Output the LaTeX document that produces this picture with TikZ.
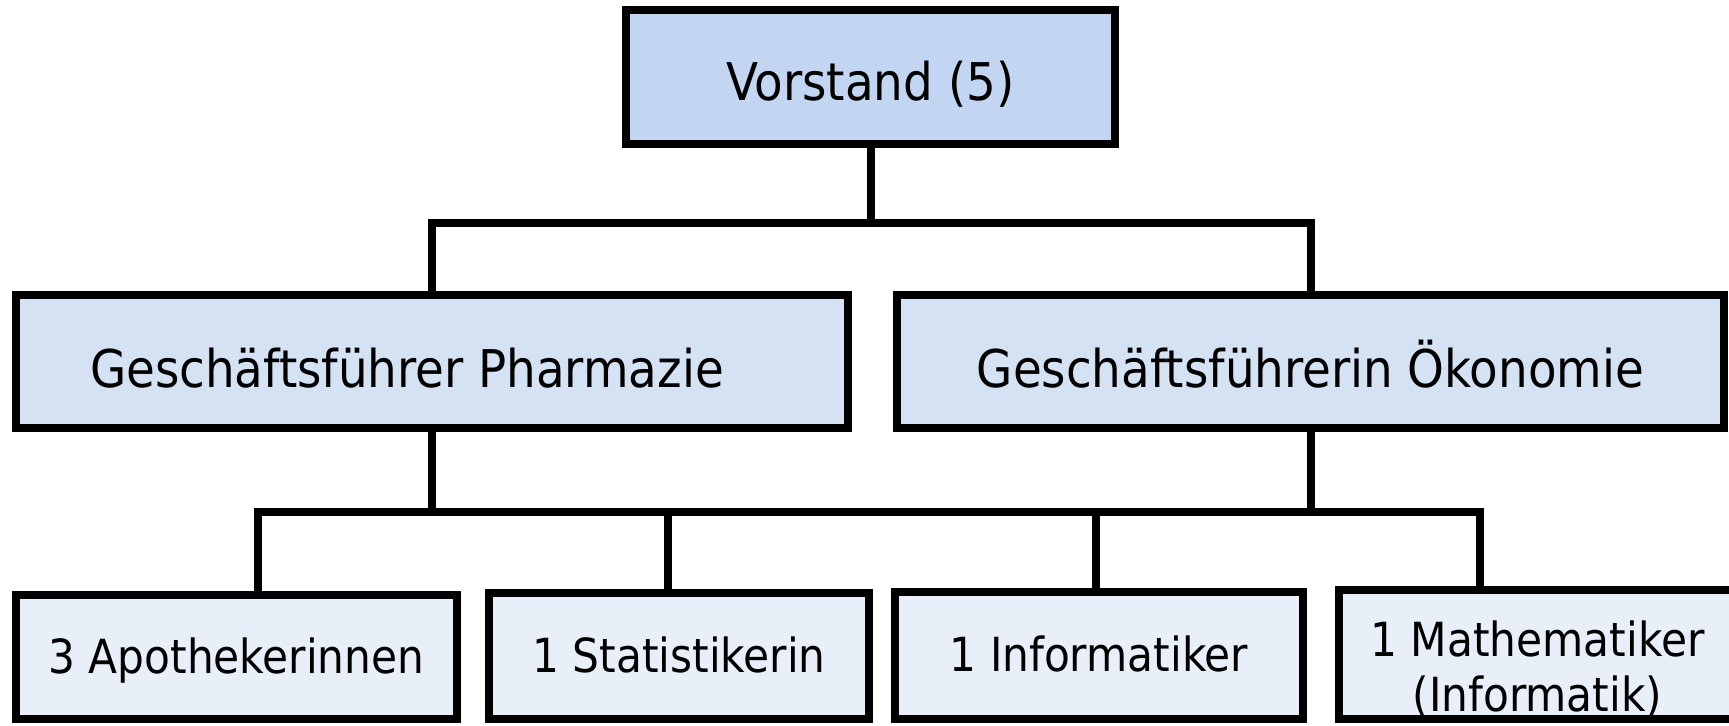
\documentclass[tikz,border=0pt]{standalone}
\usepackage{fontspec}
\setmainfont{DejaVu Sans Condensed}
\definecolor{boardfill}{HTML}{C3D6F1}
\definecolor{leadfill}{HTML}{D4E2F4}
\definecolor{stafffill}{HTML}{E8EFF9}

\begin{document}
\begin{tikzpicture}[x=0.5pt,y=-0.5pt,
    box/.style={draw,line width=4pt,inner sep=0pt,align=center,text depth=0pt},
    board/.style={box,fill=boardfill,text height=24pt,font=\fontsize{26}{30}\selectfont},
    lead/.style={box,fill=leadfill,minimum height=66.5pt,text height=26pt,font=\fontsize{26}{30}\selectfont},
    staff/.style={box,fill=stafffill,text height=16pt,font=\fontsize{23.5}{27.5}\selectfont},
    link/.style={line width=4pt}]
    \useasboundingbox (0,0) rectangle (1729,726);
    \node[board,minimum width=244.5pt,minimum height=67pt] (vorstand) at (870.5,77) {Vorstand (5)};
    \node[lead,minimum width=416pt] (gfp) at (432,361.5) {Geschäftsführer Pharmazie\hspace*{25pt}};
    \node[lead,minimum width=413.5pt] (gfo) at (1310.5,361.5) {Geschäftsführerin Ökonomie};
    \node[staff,minimum width=220.5pt,minimum height=62pt] (apo) at (236.5,657) {3 Apothekerinnen};
    \node[staff,minimum width=190pt,minimum height=63pt] (stat) at (679,656) {1 Statistikerin};
    \node[staff,minimum width=204pt,minimum height=63.5pt] (inf) at (1099,655.5) {1 Informatiker};
    \node[staff,text height={},text depth={},minimum width=198.5pt,minimum height=64.5pt] (mat) at (1537.5,654.5)
        {\rule{0pt}{33pt}1 Mathematiker\\(Informatik)};
    % busses
    \coordinate (topbus) at (0,223);
    \coordinate (lowbus) at (0,512);
    \coordinate (apotop) at ([xshift=10.75pt]apo.north);
    \coordinate (stattop) at ([xshift=-5.5pt]stat.north);
    \coordinate (inftop) at ([xshift=-1.5pt]inf.north);
    \coordinate (mattop) at ([xshift=-28.75pt]mat.north);
    \draw[link] (vorstand.south) -- (vorstand.south |- topbus);
    \draw[link] (gfp.north) |- (gfo.north |- topbus) -- (gfo.north);
    \draw[link] (gfp.south) -- (gfp.south |- lowbus);
    \draw[link] (gfo.south) -- (gfo.south |- lowbus);
    \draw[link] (apotop) |- (mattop |- lowbus) -- (mattop);
    \draw[link] (stattop) -- (stattop |- lowbus);
    \draw[link] (inftop) -- (inftop |- lowbus);
\end{tikzpicture}
\end{document}
